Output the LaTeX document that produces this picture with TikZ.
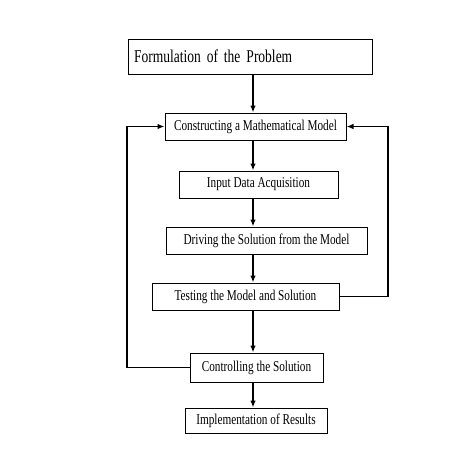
\documentclass[tikz,border=0pt]{standalone}
\usepackage{fontspec}
\setmainfont{Liberation Serif}[FakeStretch=0.75]
\usetikzlibrary{arrows.meta}

\begin{document}
\begin{tikzpicture}[x=1pt,y=-1pt,
    box/.style={draw,line width=1pt,inner sep=0pt,minimum height=27pt,font=\fontsize{15}{15}\selectfont},
    flow/.style={line width=1.3pt,-{Latex[length=7pt,width=5.5pt]}}]
        \useasboundingbox (0,0) rectangle (474,458);
        \coordinate (spine) at (253,0);
        \coordinate (lft) at (127,0);
        \coordinate (rgt) at (388,0);
        \node[box,minimum width=244pt,minimum height=35pt,text width=232pt,align=left,
              font=\fontsize{18}{18}\selectfont] (prob) at (250,56.5) {Formulation of the Problem};
        \node[box,minimum width=181pt] (model) at (255.5,126.5) {Constructing a Mathematical Model};
        \node[box,minimum width=159pt] (data) at (258.5,184.5) {Input Data Acquisition};
        \node[box,minimum width=201pt] (solve) at (266.5,240.5) {Driving the Solution from the Model};
        \node[box,minimum width=187pt] (test) at (245.5,296.5) {Testing the Model and Solution};
        \node[box,minimum width=133pt,minimum height=29pt] (ctrl) at (256.5,367.5) {Controlling the Solution};
        \node[box,minimum width=142pt,minimum height=25pt] (impl) at (256,420.5) {Implementation of Results};
        % main line
        \draw[flow] (prob.south -| spine) -- (model.north -| spine);
        \draw[flow] (model.south -| spine) -- (data.north -| spine);
        \draw[flow] (data.south -| spine) -- (solve.north -| spine);
        \draw[flow] (solve.south -| spine) -- (test.north -| spine);
        \draw[flow] (test.south -| spine) -- (ctrl.north -| spine);
        \draw[flow] (ctrl.south -| spine) -- (impl.north -| spine);
        % feedback
        \draw[flow] (ctrl.west) -- (ctrl.west -| lft) |- (model.west);
        \draw[flow] (test.east) -- (test.east -| rgt) |- (model.east);
\end{tikzpicture}
\end{document}
